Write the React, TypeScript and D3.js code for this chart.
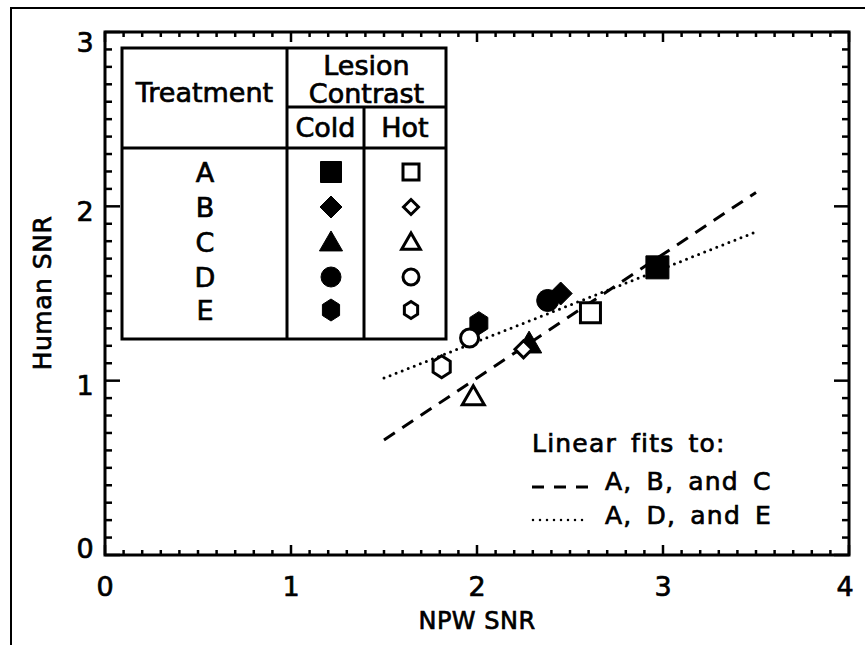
import React from "react";
import * as d3 from "d3";

const treatments = ["A", "B", "C", "D", "E"];
const shapeKinds = ["square", "diamond", "triangle", "circle", "hexagon"];
// Cold lesion contrast (filled symbols)
const coldNPW = [2.97, 2.45, 2.28, 2.38, 2.01];
const coldHuman = [1.65, 1.5, 1.215, 1.46, 1.33];
// Hot lesion contrast (open symbols)
const hotNPW = [2.61, 2.25, 1.98, 1.96, 1.81];
const hotHuman = [1.39, 1.18, 0.91, 1.245, 1.08];
// Linear fits
const fitABC_x = [1.5, 3.5];
const fitABC_y = [0.66, 2.08];
const fitADE_x = [1.5, 3.5];
const fitADE_y = [1.015, 1.853];

const xTicks = [0, 1, 2, 3, 4];
const yTicks = [0, 1, 2, 3];

const FONT = "'DejaVu Sans', sans-serif";

function shapePath(kind: string, r: number): string {
  switch (kind) {
    case "square":
      return `M${-r},${-r}H${r}V${r}H${-r}Z`;
    case "diamond":
      return `M0,${-r}L${r},0L0,${r}L${-r},0Z`;
    case "triangle":
      return `M0,${-r * 1.05}L${r * 1.1},${r * 0.85}L${-r * 1.1},${r * 0.85}Z`;
    case "circle":
      return `M${r},0A${r},${r} 0 1,1 ${-r},0A${r},${r} 0 1,1 ${r},0Z`;
    default: {
      const w = r * 0.78;
      const h = r;
      return `M0,${-h}L${w},${-h / 2}L${w},${h / 2}L0,${h}L${-w},${h / 2}L${-w},${-h / 2}Z`;
    }
  }
}

const legendFilledR: Record<string, number> = { square: 10.5, diamond: 11, triangle: 10.5, circle: 10, hexagon: 11 };
const legendHollowR: Record<string, number> = { square: 8, diamond: 7.5, triangle: 8.5, circle: 8, hexagon: 8.5 };
const plotFilledR: Record<string, number> = { square: 11.5, diamond: 11.5, triangle: 11.5, circle: 11, hexagon: 11.5 };
const plotHollowR: Record<string, number> = { square: 10, diamond: 8.5, triangle: 10, circle: 9, hexagon: 11 };

function Sym({ kind, x, y, filled, r }: { kind: string; x: number; y: number; filled: boolean; r: number }) {
  return (
    <path
      d={shapePath(kind, r)}
      transform={`translate(${x},${y})`}
      fill={filled ? "#000" : "#fff"}
      stroke="#000"
      strokeWidth={filled ? 1 : 3}
      strokeLinejoin="miter"
    />
  );
}

export default function App() {
  const W = 865;
  const H = 645;
  const x = d3.scaleLinear().domain([0, 4]).range([105, 849]);
  const y = d3.scaleLinear().domain([0, 3]).range([555, 32]);
  const [x0, x1] = x.range();
  const [y0, y1] = y.range();

  const xMinor = x.ticks(40);
  const yMinor = y.ticks(30);
  const isMajor = (v: number) => Math.abs(v - Math.round(v)) < 1e-6;

  const fitPath = (xs: number[], ys: number[]) =>
    d3.line<[number, number]>().x((d) => x(d[0])).y((d) => y(d[1]))(xs.map((v, i) => [v, ys[i]] as [number, number])) || "";

  // legend table geometry
  const tL = 122, tR = 446, tT = 48, tB = 339;
  const tV1 = 287, tV2 = 364, tH1 = 107, tH2 = 148;
  const rowY = [172, 207, 242, 277, 310];
  const colLetter = 205, colCold = 331, colHot = 411;

  const bold = { stroke: "#000", strokeWidth: 0.7 } as const;

  return (
    <svg
      width={W}
      height={H}
      style={{ position: "absolute", left: 0, top: 0, background: "#fff" }}
      fontFamily={FONT}
    >
      <rect x={0} y={0} width={W} height={H} fill="#fff" />
      {/* outer frame */}
      <path d={`M11,${H}V8H${W}`} fill="none" stroke="#000" strokeWidth={2} />

      {/* fit lines */}
      <path d={fitPath(fitABC_x, fitABC_y)} fill="none" stroke="#000" strokeWidth={3} strokeDasharray="13,9" />
      <path d={fitPath(fitADE_x, fitADE_y)} fill="none" stroke="#000" strokeWidth={3} strokeDasharray="0,6.5" strokeLinecap="round" />

      {/* data: filled then hollow */}
      {shapeKinds.map((k, i) => (
        <Sym key={"c" + i} kind={k} x={x(coldNPW[i])} y={y(coldHuman[i])} filled r={plotFilledR[k]} />
      ))}
      {shapeKinds.map((k, i) => (
        <Sym key={"h" + i} kind={k} x={x(hotNPW[i])} y={y(hotHuman[i])} filled={false} r={plotHollowR[k]} />
      ))}

      {/* axes frame */}
      <rect x={x0} y={y1} width={x1 - x0} height={y0 - y1} fill="none" stroke="#000" strokeWidth={3} />
      {xMinor.map((v) => {
        const len = isMajor(v) ? 10 : 5;
        const px = x(v);
        return (
          <g key={"xt" + v}>
            <line x1={px} x2={px} y1={y0} y2={y0 - len} stroke="#000" strokeWidth={2.5} />
            <line x1={px} x2={px} y1={y1} y2={y1 + len} stroke="#000" strokeWidth={2.5} />
          </g>
        );
      })}
      {yMinor.map((v) => {
        const len = isMajor(v) ? 15 : 7;
        const py = y(v);
        return (
          <g key={"yt" + v}>
            <line x1={x0} x2={x0 + len} y1={py} y2={py} stroke="#000" strokeWidth={2.5} />
            <line x1={x1} x2={x1 - len} y1={py} y2={py} stroke="#000" strokeWidth={2.5} />
          </g>
        );
      })}

      {/* tick labels */}
      <g {...bold}>
        {xTicks.map((v) => (
          <text key={"xl" + v} x={Math.min(Math.max(x(v), 105), 845)} y={596} textAnchor="middle" fontSize={27}>
            {v}
          </text>
        ))}
        {yTicks.map((v) => (
          <text key={"yl" + v} x={85} y={Math.min(Math.max(y(v) + 4.5, 42), 548) + 10} textAnchor="middle" fontSize={27}>
            {v}
          </text>
        ))}

        {/* axis titles */}
        <text x={477} y={629} textAnchor="middle" fontSize={24} letterSpacing={0.5}>
          NPW SNR
        </text>
        <text transform="translate(51,293) rotate(-90)" textAnchor="middle" fontSize={25} letterSpacing={0.5}>
          Human SNR
        </text>
      </g>

      {/* legend table */}
      <g stroke="#000" strokeWidth={3} fill="none">
        <rect x={tL} y={tT} width={tR - tL} height={tB - tT} fill="#fff" />
        <line x1={tV1} x2={tV1} y1={tT} y2={tB} />
        <line x1={tV2} x2={tV2} y1={tH1} y2={tB} />
        <line x1={tV1} x2={tR} y1={tH1} y2={tH1} />
        <line x1={tL} x2={tR} y1={tH2} y2={tH2} />
      </g>
      <g fontSize={27} textAnchor="middle" {...bold}>
        <text x={(tL + tV1) / 2} y={102}>Treatment</text>
        <text x={(tV1 + tR) / 2} y={75}>Lesion</text>
        <text x={(tV1 + tR) / 2} y={103}>Contrast</text>
        <text x={(tV1 + tV2) / 2} y={137}>Cold</text>
        <text x={(tV2 + tR) / 2} y={137}>Hot</text>
        {treatments.map((t, i) => (
          <text key={t} x={colLetter} y={rowY[i] + 10}>
            {t}
          </text>
        ))}
      </g>
      {shapeKinds.map((k, i) => (
        <g key={"lg" + i}>
          <Sym kind={k} x={colCold} y={rowY[i]} filled r={legendFilledR[k]} />
          <Sym kind={k} x={colHot} y={rowY[i]} filled={false} r={legendHollowR[k]} />
        </g>
      ))}

      {/* fit legend */}
      <g fontSize={25} {...bold} letterSpacing={1.2}>
        <text x={532} y={452} wordSpacing={5}>Linear fits to:</text>
        <text x={605} y={490} wordSpacing={5}>A, B, and C</text>
        <text x={605} y={524} wordSpacing={5}>A, D, and E</text>
      </g>
      <line x1={532} x2={588} y1={487} y2={487} stroke="#000" strokeWidth={3} strokeDasharray="12,10" />
      <line x1={533} x2={588} y1={520} y2={520} stroke="#000" strokeWidth={2.5} strokeDasharray="0,7" strokeLinecap="round" />
    </svg>
  );
}
